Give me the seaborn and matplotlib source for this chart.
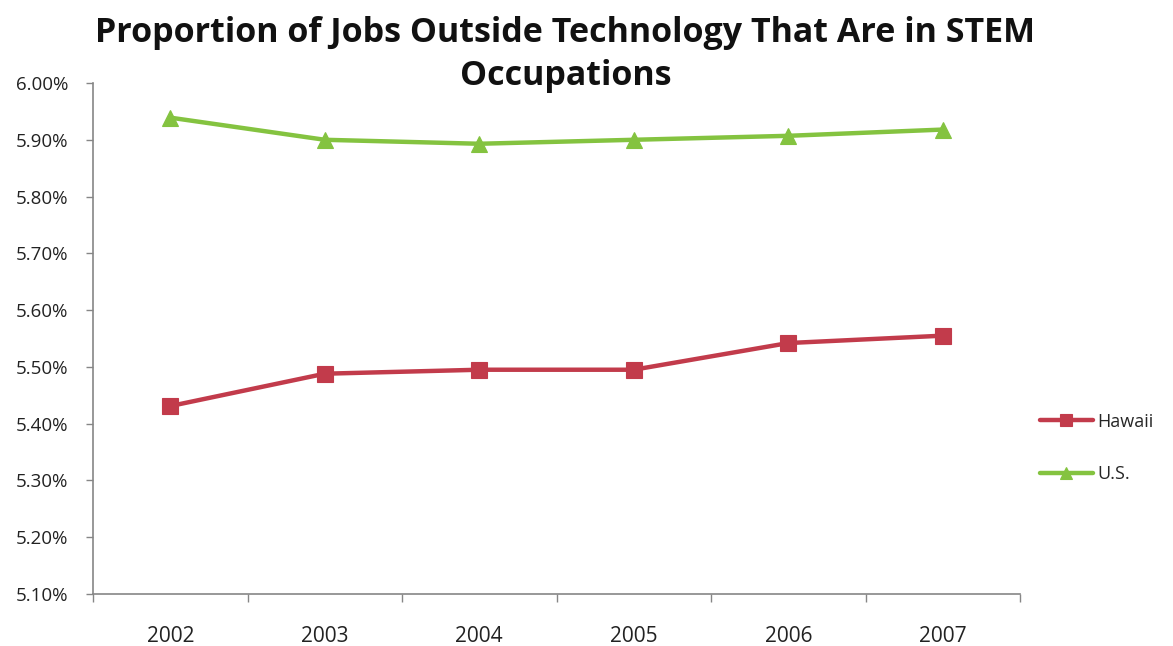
import matplotlib
matplotlib.use("Agg")
import matplotlib.pyplot as plt
from matplotlib.ticker import FixedLocator, FuncFormatter
import seaborn as sns
import pandas as pd

years = [2002, 2003, 2004, 2005, 2006, 2007]
hawaii = [5.431, 5.488, 5.495, 5.495, 5.542, 5.555]
us = [5.939, 5.900, 5.893, 5.900, 5.907, 5.918]
series_names = ["Hawaii", "U.S."]
y_ticks = [5.10, 5.20, 5.30, 5.40, 5.50, 5.60, 5.70, 5.80, 5.90, 6.00]

df = pd.DataFrame({
    "year": years * 2,
    "value": hawaii + us,
    "series": [series_names[0]] * len(years) + [series_names[1]] * len(years),
})

sns.set_style("ticks")
plt.rcParams["font.family"] = ["Open Sans", "DejaVu Sans"]

fig = plt.figure(figsize=(11.73, 6.46), dpi=100)
ax = fig.add_axes([0.0793, 0.0805, 0.7903, 0.791])

palette = {"Hawaii": "#c23b4b", "U.S.": "#84c340"}
markers = {"Hawaii": "s", "U.S.": "^"}
sns.lineplot(data=df, x="year", y="value", hue="series", style="series",
             palette=palette, markers=markers, dashes=False, linewidth=3.2,
             markersize=11, markeredgewidth=0.8, ax=ax)
for line in ax.lines:
    line.set_markeredgecolor(line.get_color())

ax.set_xlim(years[0] - 0.5, years[-1] + 0.5)
ax.set_ylim(y_ticks[0], y_ticks[-1])
ax.yaxis.set_major_locator(FixedLocator(y_ticks))
ax.yaxis.set_major_formatter(FuncFormatter(lambda v, p: f"{v:.2f}%"))

# category boundaries carry the tick marks, category centres carry the labels
ax.xaxis.set_major_locator(FixedLocator([y - 0.5 for y in years] + [years[-1] + 0.5]))
ax.xaxis.set_major_formatter(FuncFormatter(lambda v, p: ""))
ax.xaxis.set_minor_locator(FixedLocator(years))
ax.xaxis.set_minor_formatter(FuncFormatter(lambda v, p: f"{int(round(v))}"))
ax.tick_params(axis="x", which="major", bottom=True, direction="out", length=6,
               width=1, color="#868686")
ax.tick_params(axis="x", which="minor", bottom=True, length=0, pad=23,
               labelsize=15, labelcolor="#222222")
ax.tick_params(axis="y", which="major", left=True, direction="out", length=5,
               width=1, color="#868686", pad=13, labelsize=13.5, labelcolor="#222222")

for side in ["top", "right"]:
    ax.spines[side].set_visible(False)
for side in ["left", "bottom"]:
    ax.spines[side].set_color("#868686")
    ax.spines[side].set_linewidth(1.2)

ax.set_xlabel("")
ax.set_ylabel("")

handles, labels = ax.get_legend_handles_labels()
ax.legend(handles, labels, loc="center left", bbox_to_anchor=(1.014, 0.286),
          frameon=False, fontsize=13, handlelength=2.9, handletextpad=0.28,
          labelspacing=1.9, borderaxespad=0)
for h in ax.get_legend().legend_handles:
    h.set_markersize(9)

fig.text(0.482, 0.975, "Proportion of Jobs Outside Technology That Are in STEM\nOccupations",
         ha="center", va="top", fontsize=24.5, fontweight="bold", color="#111111",
         linespacing=1.35)

fig.savefig("out.png", dpi=100)
